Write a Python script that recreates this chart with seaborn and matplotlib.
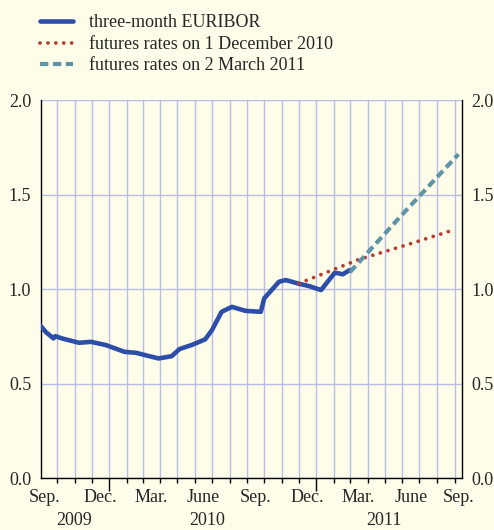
import matplotlib
matplotlib.use("Agg")
import matplotlib.pyplot as plt
import matplotlib.dates as mdates
import numpy as np
import pandas as pd
import seaborn as sns

# three-month EURIBOR
euribor_dates = ["2009-09-01", "2009-09-04", "2009-09-11", "2009-09-25", "2009-09-28",
                 "2009-10-10", "2009-11-09", "2009-11-30", "2009-12-26", "2010-01-28",
                 "2010-02-17", "2010-03-29", "2010-04-21", "2010-05-05", "2010-05-26",
                 "2010-06-19", "2010-07-01", "2010-07-18", "2010-08-05", "2010-08-29",
                 "2010-09-25", "2010-10-01", "2010-10-27", "2010-11-08", "2010-11-29",
                 "2010-12-19", "2011-01-09", "2011-01-23", "2011-02-02", "2011-02-10",
                 "2011-02-16", "2011-02-28"]
euribor_values = [0.81, 0.80, 0.774, 0.739, 0.751,
                  0.739, 0.716, 0.721, 0.704, 0.668,
                  0.663, 0.633, 0.645, 0.683, 0.704,
                  0.734, 0.783, 0.880, 0.906, 0.885,
                  0.880, 0.951, 1.039, 1.048, 1.030,
                  1.016, 0.995, 1.048, 1.086, 1.083,
                  1.078, 1.10]

# futures rates on 1 December 2010
fut_dec_dates = ["2010-12-01", "2011-03-15", "2011-06-15", "2011-08-27"]
fut_dec_values = [1.03, 1.155, 1.24, 1.31]

# futures rates on 2 March 2011
fut_mar_dates = ["2011-03-01", "2011-06-01", "2011-09-08"]
fut_mar_values = [1.09, 1.395, 1.714]

month_labels = ["Sep.", "Dec.", "Mar.", "June", "Sep.", "Dec.", "Mar.", "June", "Sep."]
month_label_dates = ["2009-09-09", "2009-12-16", "2010-03-16", "2010-06-16", "2010-09-16",
                     "2010-12-16", "2011-03-16", "2011-06-16", "2011-09-08"]
year_labels = ["2009", "2010", "2011"]
year_label_dates = ["2009-11-01", "2010-06-23", "2011-04-29"]

bg = "#fefde9"
grid_col = "#b9bde6"
fs = 13

sns.set_theme(style="white", rc={"axes.facecolor": bg, "figure.facecolor": bg})
plt.rcParams["font.family"] = ["Liberation Serif", "DejaVu Serif"]
plt.rcParams["font.size"] = fs

fig = plt.figure(figsize=(4.94, 5.30), dpi=100)
ax = fig.add_axes([0.083, 0.098, 0.852, 0.713])

eur = pd.DataFrame({"date": pd.to_datetime(euribor_dates), "value": euribor_values})
dec = pd.DataFrame({"date": pd.to_datetime(fut_dec_dates), "value": fut_dec_values})
mar = pd.DataFrame({"date": pd.to_datetime(fut_mar_dates), "value": fut_mar_values})

sns.lineplot(data=eur, x="date", y="value", ax=ax, color="#2c4ea8", lw=3.3,
             label="three-month EURIBOR", zorder=3)
sns.lineplot(data=dec, x="date", y="value", ax=ax, color="#b83a30", lw=2.7,
             label="futures rates on 1 December 2010", zorder=4)
sns.lineplot(data=mar, x="date", y="value", ax=ax, color="#5e94a6", lw=3.0,
             label="futures rates on 2 March 2011", zorder=4)
ax.lines[1].set_dashes([0.01, 2.1])
ax.lines[1].set_dash_capstyle("round")
ax.lines[2].set_dashes([2.0, 1.1])

ax.set_xlim(pd.Timestamp("2009-09-03"), pd.Timestamp("2011-09-14"))
ax.set_ylim(0, 2.0)
ax.set_xlabel("")
ax.set_ylabel("")

# axes: months as minor ticks, year starts as long major ticks
ax.xaxis.set_major_locator(mdates.YearLocator())
ax.xaxis.set_minor_locator(mdates.MonthLocator())
ax.xaxis.set_major_formatter(plt.NullFormatter())
ax.tick_params(axis="x", which="major", direction="out", length=9, width=1, color="black", bottom=True)
ax.tick_params(axis="x", which="minor", direction="out", length=3.5, width=1, color="black", bottom=True)
ax.grid(True, axis="x", which="both", color=grid_col, lw=1.0)
ax.set_yticks(np.arange(0, 2.01, 0.5))
ax.yaxis.set_major_formatter(plt.FuncFormatter(lambda v, p: f"{v:.1f}"))
ax.grid(True, axis="y", color=grid_col, lw=1.0)
ax.tick_params(axis="y", length=0, labelsize=fs, labelleft=True, labelright=True, pad=7)
ax.spines["top"].set_visible(False)
for s in ["left", "right", "bottom"]:
    ax.spines[s].set_color("black")
    ax.spines[s].set_linewidth(1.0)

trans = ax.get_xaxis_transform()
for d, lab in zip(month_label_dates, month_labels):
    ax.text(mdates.date2num(pd.Timestamp(d)), -0.051, lab, transform=trans,
            ha="center", va="center", fontsize=fs)
for d, lab in zip(year_label_dates, year_labels):
    ax.text(mdates.date2num(pd.Timestamp(d)), -0.112, lab, transform=trans,
            ha="center", va="center", fontsize=fs)

handles, labels = ax.get_legend_handles_labels()
ax.get_legend().remove()
fig.legend(handles, labels, loc="upper left", bbox_to_anchor=(0.081, 0.973),
           frameon=False, fontsize=fs, handlelength=1.85, handletextpad=0.85,
           labelspacing=0.25, borderpad=0.0, borderaxespad=0.0)

fig.savefig("out.png", dpi=100, facecolor=bg)
